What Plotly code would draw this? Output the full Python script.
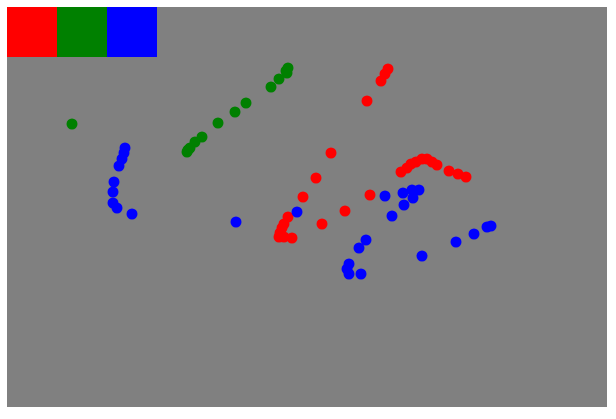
import plotly.graph_objects as go

# Point positions (plot units: 0..600 wide, 0..400 tall, origin top-left)
red_x = [381, 378, 374, 360, 324, 309, 296, 363, 338, 315, 281, 277, 275, 273, 272, 277, 285,
         394, 400, 404, 409, 415, 420, 425, 430, 442, 451, 459]
red_y = [62, 67, 74, 94, 146, 171, 190, 188, 204, 217, 210, 217, 221, 226, 230, 230, 231,
         165, 161, 157, 155, 152, 152, 155, 158, 164, 167, 170]

green_x = [65, 180, 181, 183, 188, 195, 211, 228, 239, 264, 272, 280, 281, 279]
green_y = [117, 145, 143, 141, 135, 130, 116, 105, 96, 80, 72, 66, 61, 64]

blue_x = [118, 117, 115, 112, 107, 106, 106, 110, 125, 229, 290,
          378, 396, 405, 412, 406, 397, 385, 359, 352, 342, 340, 342, 354,
          415, 449, 467, 480, 484]
blue_y = [141, 146, 152, 159, 175, 185, 196, 201, 207, 215, 205,
          189, 186, 183, 183, 191, 198, 209, 233, 241, 257, 262, 267, 267,
          249, 235, 227, 220, 219]

box_labels = ["red", "green", "blue"]
box_colors = ["#FF0000", "#008000", "#0000FF"]
box_width = 50

fig = go.Figure()
for xs, ys, c in [(red_x, red_y, "#FF0000"), (green_x, green_y, "#008000"), (blue_x, blue_y, "#0000FF")]:
    fig.add_trace(go.Scatter(x=xs, y=ys, mode="markers",
                             marker=dict(color=c, size=11, line=dict(width=0)),
                             hoverinfo="skip", showlegend=False))

for i, c in enumerate(box_colors):
    fig.add_shape(type="rect", xref="x", yref="y",
                  x0=i * box_width, x1=(i + 1) * box_width, y0=0, y1=box_width,
                  fillcolor=c, line=dict(width=0), layer="below")

fig.update_layout(
    width=616, height=419,
    margin=dict(l=7, r=9, t=7, b=12),
    paper_bgcolor="white", plot_bgcolor="#808080",
    showlegend=False,
    xaxis=dict(range=[0, 600], visible=False, showgrid=False, zeroline=False),
    yaxis=dict(range=[400, 0], visible=False, showgrid=False, zeroline=False),
)
fig.write_html("out.html")
